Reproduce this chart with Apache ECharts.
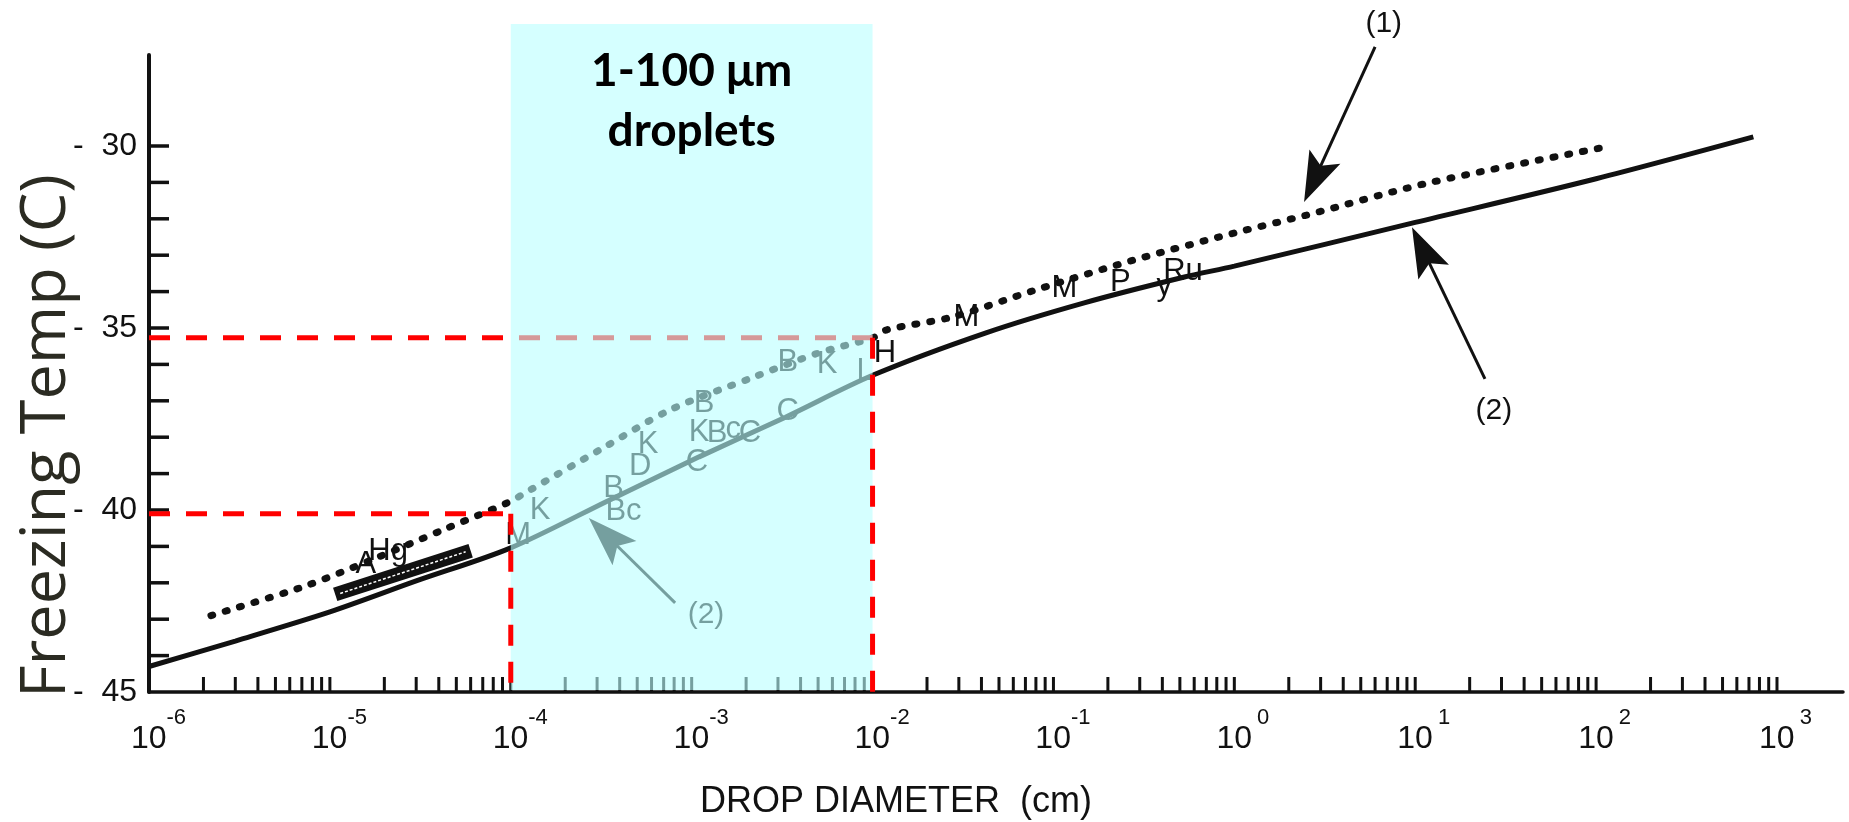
<!DOCTYPE html>
<html><head><meta charset="utf-8">
<script src="https://cdn.jsdelivr.net/npm/echarts@6/dist/echarts.min.js"></script>
<style>html,body{margin:0;padding:0;background:#fff}#c{width:1849px;height:822px}</style>
</head><body><div id="c"></div>
<script>
// ---------- data ----------
// Curve (1): dotted
const curve1X = [2.2e-6, 7.2e-6, 1.7e-5, 4.2e-5, 9.6e-5, 1.28e-4, 3.1e-4, 7.6e-4, 2.2e-3, 5e-3, 1e-2, 1.2e-2, 2.75e-2, 7.9e-2, 0.28, 1.0, 2.5, 11.7, 107];
const curve1T = [-42.9, -42.1, -41.37, -40.55, -39.8, -39.45, -38.35, -37.25, -36.35, -35.69, -35.27, -35.05, -34.7, -33.96, -33.13, -32.39, -31.9, -31.02, -30.05];
// Curve (2): solid
const curve2X = [1e-6, 3e-6, 1e-5, 3e-5, 1e-4, 3.5e-4, 1.1e-3, 3.3e-3, 1e-2, 4.2e-2, 0.148, 0.53, 1, 10, 100, 740];
const curve2T = [-44.3, -43.6, -42.8, -41.95, -41.04, -39.73, -38.54, -37.45, -36.3, -35.14, -34.31, -33.6, -33.3, -32.1, -30.9, -29.75];
// experiment letters on the curves
const letterText = ['A', 'Hg', 'M', 'K', 'B', 'Bc', 'D', 'K', 'C', 'K', 'B', 'c', 'C', 'B', 'C', 'B', 'K', 'L', 'H', 'M', 'M', 'P', 'y', 'Ru'];
const letterX = [1.58e-5, 2.1e-5, 1.1e-4, 1.45e-4, 3.7e-4, 4.2e-4, 5.2e-4, 5.75e-4, 1.07e-3, 1.1e-3, 1.38e-3, 1.7e-3, 2.1e-3, 1.17e-3, 3.4e-3, 3.4e-3, 5.6e-3, 9.1e-3, 1.17e-2, 3.3e-2, 0.115, 0.234, 0.41, 0.52];
const letterT = [-41.5, -41.15, -40.7, -40.0, -39.4, -40.05, -38.8, -38.2, -38.7, -37.86, -37.9, -37.8, -37.9, -37.06, -37.3, -35.96, -36.0, -36.2, -35.69, -34.72, -33.9, -33.76, -33.87, -33.46];
// arrows with their labels
const arrowText = ['(1)', '(2)', '(2)'];
const arrowTextX = [6.7, 27.2, 1.2e-3];
const arrowTextT = [-26.65, -37.28, -42.88];
const arrowFromX = [6.0, 24.3, 8.1e-4];
const arrowFromT = [-27.28, -36.4, -42.55];
const arrowToX = [2.43, 9.6, 2.7e-4];
const arrowToT = [-31.54, -32.23, -40.22];
// small label plate on curve (2)
const plateX = [1.07e-5, 6e-5];
const plateT = [-42.32, -41.12];
// red dashed guide lines
const guideT = [-35.27, -40.1];
const guideX = [1e-2, 1e-4];
// highlighted droplet range
const boxX = [1e-4, 1e-2];
const boxTopT = -26.65;
const boxText = ['1-100 \u03bcm', 'droplets'];
const boxTextT = [-27.95, -29.6];
// axes
const xMin = 1e-6, xMax = 2317, yMin = -45, yMax = -27.5;
const xDecades = [-6, -5, -4, -3, -2, -1, 0, 1, 2];
const xMultipliers = [1, 2, 3, 4, 5, 6, 7, 8, 9];
const yTickVals = [-44, -43, -42, -41, -40, -39, -38, -37, -36, -35, -34, -33, -32, -31, -30];

const xTickVals = [];
xDecades.forEach(e => xMultipliers.forEach(k => { const v = k * Math.pow(10, e); if (v > xMin * 1.01) xTickVals.push(v); }));
xTickVals.push(1000);

const FONT = '"Liberation Sans", Arial, sans-serif';
const chart = echarts.init(document.getElementById('c'));

function arrowShape(p0, p1, L, W) {
  const dx = p1[0] - p0[0], dy = p1[1] - p0[1];
  const len = Math.sqrt(dx * dx + dy * dy);
  const ux = dx / len, uy = dy / len, nx = -uy, ny = ux;
  const bx = p1[0] - ux * L, by = p1[1] - uy * L;
  return {
    line: [p0[0], p0[1], p1[0] - ux * L * 0.6, p1[1] - uy * L * 0.6],
    head: [[p1[0], p1[1]], [bx + nx * W, by + ny * W], [p1[0] - ux * L * 0.8, p1[1] - uy * L * 0.8], [bx - nx * W, by - ny * W]]
  };
}

const option = {
  animation: false,
  grid: { left: 149, right: 6, top: 55, bottom: 130, containLabel: false },
  xAxis: {
    type: 'log', logBase: 10, min: xMin, max: xMax, splitNumber: 10,
    axisLine: { lineStyle: { color: '#111', width: 3.5 } },
    axisTick: { show: false },
    splitLine: { show: false },
    axisLabel: {
      margin: 15, color: '#111',
      formatter: function (v) {
        const l = Math.log10(v), e = Math.round(l);
        if (Math.abs(l - e) > 1e-6) return '';
        const s = String(e);
        const sp = s.length > 1 ? 'sp2' : 'sp1';
        return '{' + sp + '| }{b|10}{' + (e >= 0 ? 's2' : 's') + '|' + s + '}';
      },
      rich: {
        b: { fontSize: 32, fontFamily: FONT, color: '#111', lineHeight: 48, verticalAlign: 'bottom' },
        s: { fontSize: 22, fontFamily: FONT, color: '#111', lineHeight: 16, verticalAlign: 'top' },
        s2: { fontSize: 22, fontFamily: FONT, color: '#111', lineHeight: 16, verticalAlign: 'top', padding: [0, 0, 0, 5] },
        sp1: { width: 17, fontSize: 10 },
        sp2: { width: 19, fontSize: 10 }
      }
    }
  },
  yAxis: {
    type: 'value', min: yMin, max: yMax, interval: 5,
    axisLine: { lineStyle: { color: '#111', width: 4 } },
    axisTick: { show: false },
    splitLine: { show: false },
    axisLabel: {
      margin: 12, color: '#111', fontSize: 32, fontFamily: FONT, showMaxLabel: false,
      formatter: v => (v % 5 === 0 ? '-  ' + Math.abs(v) : '')
    }
  },
  graphic: [
    { type: 'text', x: 47, y: 436, rotation: Math.PI / 2,
      style: { text: 'Freezing Temp (C)', fontSize: 63, fontFamily: '"Open Sans", "Noto Sans", sans-serif', fontWeight: 'normal', fill: '#2b2b22', align: 'center', verticalAlign: 'middle' } },
    { type: 'text', x: 896, y: 802,
      style: { text: 'DROP DIAMETER  (cm)', fontSize: 36, fontFamily: FONT, fill: '#111', align: 'center', verticalAlign: 'middle' } }
  ],
  series: [
    // axis ticks (x, inward)
    { type: 'custom', z: 2, silent: true, data: xTickVals.map(v => [v, yMin]),
      renderItem: (params, api) => {
        const p = api.coord([api.value(0), api.value(1)]);
        return { type: 'line', shape: { x1: p[0], y1: p[1] - 1, x2: p[0], y2: p[1] - 15 }, style: { stroke: '#111', lineWidth: 3 } };
      } },
    // axis ticks (y, inward)
    { type: 'custom', z: 2, silent: true, data: yTickVals.map(v => [xMin, v]),
      renderItem: (params, api) => {
        const p = api.coord([api.value(0), api.value(1)]);
        return { type: 'line', shape: { x1: p[0] + 1, y1: p[1], x2: p[0] + 20, y2: p[1] }, style: { stroke: '#111', lineWidth: 3.5 } };
      } },
    // curve (1) dotted
    { type: 'line', z: 2, silent: true, symbol: 'none', smooth: 0.3,
      data: curve1X.map((x, i) => [x, curve1T[i]]),
      lineStyle: { color: '#111', width: 7, type: [2, 13], cap: 'round' } },
    // curve (2) solid
    { type: 'line', z: 2, silent: true, symbol: 'none', smooth: 0.3,
      data: curve2X.map((x, i) => [x, curve2T[i]]),
      lineStyle: { color: '#111', width: 5 } },
    // red horizontal guides (under the highlight)
    { type: 'line', z: 2, silent: true, symbol: 'none',
      data: [[xMin, guideT[0]], [guideX[0], guideT[0]]],
      lineStyle: { color: '#ff0000', width: 5, type: [21, 16] } },
    { type: 'line', z: 2, silent: true, symbol: 'none',
      data: [[xMin, guideT[1]], [guideX[1], guideT[1]]],
      lineStyle: { color: '#ff0000', width: 5, type: [21, 16] } },
    // letters, plate and arrows
    { type: 'custom', z: 3, silent: true, data: letterX.map((x, i) => [x, letterT[i], i]),
      renderItem: (params, api) => {
        const p = api.coord([api.value(0), api.value(1)]);
        return { type: 'text', x: p[0], y: p[1],
          style: { text: letterText[api.value(2)], fontSize: 31, fontFamily: FONT, fill: '#111', align: 'center', verticalAlign: 'middle' } };
      } },
    { type: 'custom', z: 3, silent: true, data: [[plateX[0], plateT[0]]],
      renderItem: (params, api) => {
        const a = api.coord([plateX[0], plateT[0]]), b = api.coord([plateX[1], plateT[1]]);
        return { type: 'group', children: [
          { type: 'line', shape: { x1: a[0], y1: a[1], x2: b[0], y2: b[1] }, style: { stroke: '#111', lineWidth: 14 } },
          { type: 'line', shape: { x1: a[0] + 5, y1: a[1] - 1, x2: b[0] - 5, y2: b[1] + 1 }, style: { stroke: '#fff', lineWidth: 1.5, lineDash: [3, 2] } }
        ] };
      } },
    { type: 'custom', z: 3, silent: true, data: arrowFromX.map((x, i) => [x, arrowFromT[i], i]),
      renderItem: (params, api) => {
        const i = api.value(2);
        const p0 = api.coord([arrowFromX[i], arrowFromT[i]]);
        const p1 = api.coord([arrowToX[i], arrowToT[i]]);
        const t = api.coord([arrowTextX[i], arrowTextT[i]]);
        const a = arrowShape(p0, p1, 50, 17);
        return { type: 'group', children: [
          { type: 'line', shape: { x1: a.line[0], y1: a.line[1], x2: a.line[2], y2: a.line[3] }, style: { stroke: '#111', lineWidth: 3 } },
          { type: 'polygon', shape: { points: a.head }, style: { fill: '#111' } },
          { type: 'text', x: t[0], y: t[1], style: { text: arrowText[i], fontSize: 30, fontFamily: FONT, fill: '#111', align: 'center', verticalAlign: 'middle' } }
        ] };
      } },
    // translucent cyan highlight
    { type: 'custom', z: 5, silent: true, data: [[boxX[0], boxTopT]],
      renderItem: (params, api) => {
        const p0 = api.coord([boxX[0], boxTopT]);
        const p1 = api.coord([boxX[1], yMin]);
        return { type: 'rect', shape: { x: p0[0], y: p0[1], width: p1[0] - p0[0], height: p1[1] - p0[1] - 2 },
          style: { fill: 'rgba(185,255,255,0.6)' } };
      } },
    // red vertical guides (on top)
    { type: 'line', z: 6, silent: true, symbol: 'none',
      data: [[guideX[0], guideT[0]], [guideX[0], yMin]],
      lineStyle: { color: '#ff0000', width: 5, type: [21, 16] } },
    { type: 'line', z: 6, silent: true, symbol: 'none',
      data: [[guideX[1], guideT[1]], [guideX[1], yMin]],
      lineStyle: { color: '#ff0000', width: 5, type: [21, 16] } },
    // highlight caption
    { type: 'custom', z: 7, silent: true, data: boxText.map((t, i) => [Math.sqrt(boxX[0] * boxX[1]), boxTextT[i], i]),
      renderItem: (params, api) => {
        const p = api.coord([api.value(0), api.value(1)]);
        return { type: 'text', x: p[0], y: p[1],
          style: { text: boxText[api.value(2)], fontSize: 46, fontWeight: 'bold', fontFamily: 'Lato, "Open Sans", sans-serif', fill: '#000', align: 'center', verticalAlign: 'middle' } };
      } }
  ]
};
chart.setOption(option);
</script></body></html>
